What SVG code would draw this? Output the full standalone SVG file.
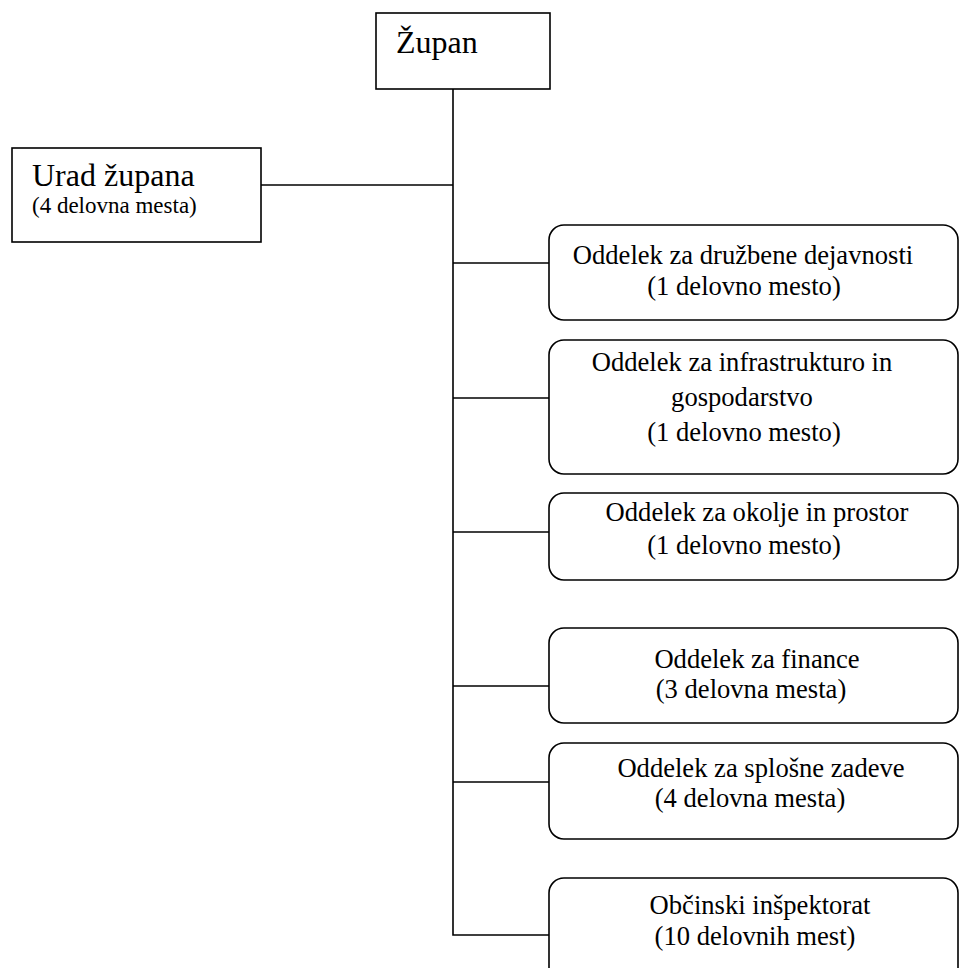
<svg xmlns="http://www.w3.org/2000/svg" width="960" height="968" viewBox="0 0 960 968">
<style>
.box{fill:#fff;stroke:#000;stroke-width:1.6}
.ln{fill:none;stroke:#000;stroke-width:1.6}
text{font-family:"Liberation Serif","Times New Roman",serif;fill:#000}
.t1{font-size:26.6px;text-anchor:middle}
.t2{font-size:26.6px;text-anchor:middle}
</style>
<rect width="960" height="968" fill="#fff"/>
<g id="connectors">
<path class="ln" d="M453 89 V935 H549"/>
<path class="ln" d="M261 185 H453"/>
<path class="ln" d="M453 263 H549"/>
<path class="ln" d="M453 398 H549"/>
<path class="ln" d="M453 532 H549"/>
<path class="ln" d="M453 686 H549"/>
<path class="ln" d="M453 782 H549"/>
</g>
<g id="zupan">
<rect class="box" x="376" y="13" width="174" height="76"/>
<text x="396" y="53" font-size="32">Župan</text>
</g>
<g id="urad">
<rect class="box" x="12" y="148" width="249" height="94"/>
<text x="32" y="186" font-size="32">Urad župana</text>
<text x="32" y="213" font-size="23">(4 delovna mesta)</text>
</g>
<g id="druzbene">
<rect class="box" x="549" y="225" width="409" height="95" rx="15"/>
<text class="t1" x="743" y="264">Oddelek za družbene dejavnosti</text>
<text class="t2" x="744" y="295">(1 delovno mesto)</text>
</g>
<g id="infrastruktura">
<rect class="box" x="549" y="340" width="409" height="134" rx="15"/>
<text class="t1" x="742" y="371">Oddelek za infrastrukturo in</text>
<text class="t1" x="742" y="406">gospodarstvo</text>
<text class="t2" x="744" y="441">(1 delovno mesto)</text>
</g>
<g id="okolje">
<rect class="box" x="549" y="493" width="409" height="87" rx="15"/>
<text class="t1" x="757" y="521">Oddelek za okolje in prostor</text>
<text class="t2" x="744" y="554">(1 delovno mesto)</text>
</g>
<g id="finance">
<rect class="box" x="549" y="628" width="409" height="95" rx="15"/>
<text class="t1" x="757" y="668">Oddelek za finance</text>
<text class="t2" x="751" y="698">(3 delovna mesta)</text>
</g>
<g id="splosne">
<rect class="box" x="549" y="743" width="409" height="96" rx="15"/>
<text class="t1" x="761" y="777">Oddelek za splošne zadeve</text>
<text class="t2" x="750" y="807">(4 delovna mesta)</text>
</g>
<g id="inspektorat">
<rect class="box" x="549" y="878" width="409" height="110" rx="15"/>
<text class="t1" x="760" y="914">Občinski inšpektorat</text>
<text class="t2" x="755" y="945">(10 delovnih mest)</text>
</g>
</svg>
